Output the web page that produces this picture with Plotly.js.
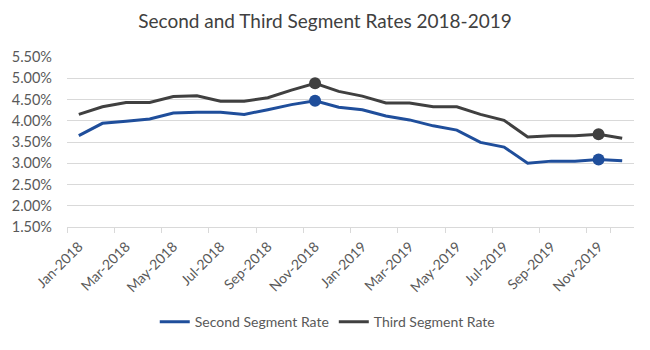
<!DOCTYPE html>
<html>
<head>
<meta charset="utf-8">
<script src="https://cdn.plot.ly/plotly-3.0.1.min.js"></script>
<style>html,body{margin:0;padding:0;background:#fff;}#chart{width:650px;height:350px;}</style>
</head>
<body>
<div id="chart"></div>
<script>
var months = ['Jan-2018','Feb-2018','Mar-2018','Apr-2018','May-2018','Jun-2018','Jul-2018','Aug-2018','Sep-2018','Oct-2018','Nov-2018','Dec-2018',
              'Jan-2019','Feb-2019','Mar-2019','Apr-2019','May-2019','Jun-2019','Jul-2019','Aug-2019','Sep-2019','Oct-2019','Nov-2019','Dec-2019'];
var secondRate = [3.65,3.94,3.99,4.04,4.18,4.20,4.20,4.15,4.26,4.38,4.47,4.32,
                  4.26,4.11,4.02,3.88,3.78,3.49,3.38,3.00,3.05,3.05,3.09,3.06];
var thirdRate  = [4.15,4.33,4.43,4.43,4.57,4.59,4.46,4.46,4.54,4.72,4.88,4.69,
                  4.58,4.42,4.42,4.33,4.33,4.15,4.01,3.62,3.65,3.65,3.68,3.59];
var highlightMonths = ['Nov-2018','Nov-2019'];
var tickLabels = ['Jan-2018','Mar-2018','May-2018','Jul-2018','Sep-2018','Nov-2018','Jan-2019','Mar-2019','May-2019','Jul-2019','Sep-2019','Nov-2019'];

var blue = '#1f4e9b', gray = '#404040';
function pick(arr){ return highlightMonths.map(function(m){ return arr[months.indexOf(m)]; }); }

var traces = [
  {x: months, y: secondRate, type: 'scatter', mode: 'lines', name: 'Second Segment Rate',
   line: {color: blue, width: 3}, hoverinfo: 'x+y'},
  {x: months, y: thirdRate, type: 'scatter', mode: 'lines', name: 'Third Segment Rate',
   line: {color: gray, width: 3}, hoverinfo: 'x+y'},
  {x: highlightMonths, y: pick(secondRate), type: 'scatter', mode: 'markers', showlegend: false,
   marker: {color: blue, size: 12}, hoverinfo: 'skip'},
  {x: highlightMonths, y: pick(thirdRate), type: 'scatter', mode: 'markers', showlegend: false,
   marker: {color: gray, size: 12}, hoverinfo: 'skip'}
];

var layout = {
  width: 650, height: 350,
  margin: {l: 67, r: 16, t: 57, b: 119},
  paper_bgcolor: '#fff', plot_bgcolor: '#fff',
  font: {family: 'Lato, sans-serif', color: '#595959', size: 14},
  title: {text: 'Second and Third Segment Rates 2018-2019', x: 0.5, xanchor: 'center', y: 0.94, yanchor: 'middle',
          font: {family: 'Lato, sans-serif', size: 19, color: '#404040'}},
  xaxis: {type: 'category', categoryorder: 'array', categoryarray: months, range: [-0.5, 23.5],
          tickmode: 'array', tickvals: tickLabels, ticktext: tickLabels, tickson: 'boundaries',
          ticks: 'outside', ticklen: 5, tickcolor: '#d9d9d9', tickangle: -45, ticklabelstandoff: 5,
          showgrid: false, showline: true, linecolor: '#d9d9d9', linewidth: 1, zeroline: false,
          tickfont: {size: 14, color: '#595959'}},
  yaxis: {range: [1.5, 5.5], dtick: 0.5, tick0: 1.5, tickformat: '.2f', ticksuffix: '%',
          showgrid: true, gridcolor: '#d9d9d9', gridwidth: 1, zeroline: false, showline: false,
          ticks: '', ticklabelstandoff: 14, tickfont: {size: 14.5, color: '#595959'}},
  legend: {orientation: 'h', x: 0.459, xanchor: 'center', y: -0.56, yanchor: 'middle',
           font: {size: 14, color: '#595959'}},
  showlegend: true
};

Plotly.newPlot('chart', traces, layout, {displayModeBar: false, staticPlot: true});
</script>
</body>
</html>
